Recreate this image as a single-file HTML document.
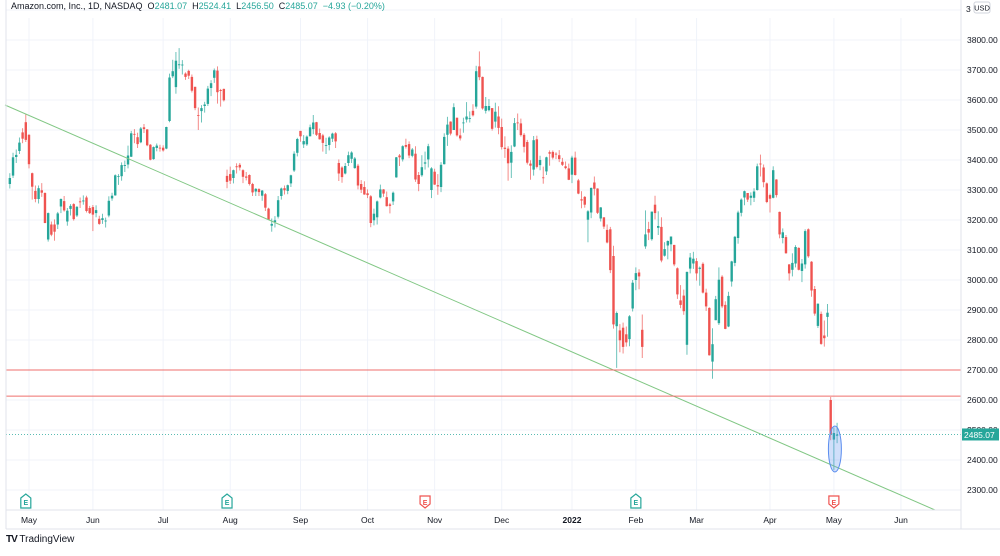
<!DOCTYPE html>
<html><head><meta charset="utf-8"><style>
body{margin:0;background:#fff;width:1000px;height:551px;overflow:hidden;font-family:"Liberation Sans",sans-serif}
svg text{font-family:"Liberation Sans",sans-serif}
</style></head><body>
<svg id="chart" width="1000" height="551" viewBox="0 0 1000 551" xmlns="http://www.w3.org/2000/svg">
<rect x="0" y="0" width="1000" height="551" fill="#fff"/>
<g id="grid"></g>
<g id="candles"></g>
<g id="overlay"></g>
<g id="axes"></g>
</svg>
<script>
const monthLabels=["May","Jun","Jul","Aug","Sep","Oct","Nov","Dec","2022","Feb","Mar","Apr","May","Jun"];
const monthStartIdx=[6,26,48,69,91,112,133,154,176,196,215,238,258,279];
const priceTicks=[3800,3700,3600,3500,3400,3300,3200,3100,3000,2900,2800,2700,2600,2500,2400,2300];
const closes=[3340,3409,3417,3458,3471,3467,
3386,3311,3270,3306,3291,3190,3223,3151,3161,3222,3270,3232,3231,3247,3203,3244,3259,3265,3230,3223,
3218,3233,3187,3206,3198,3264,3281,3349,3346,3383,3383,3415,3489,3486,3453,3505,3503,3449,3401,3443,3448,3440,
3432,3510,3675,3696,3731,3719,3718,3677,3681,3631,3573,3549,3573,3585,3638,3656,3699,3626,3630,3599,3327,
3331,3366,3376,3375,3344,3341,3320,3292,3304,3293,3298,3241,3201,3187,3199,3266,3305,3299,3316,3349,3421,3470,
3479,3463,3478,3509,3525,3484,3469,3457,3450,3475,3488,3462,3355,3343,3380,3416,3425,3405,3315,3301,3285,
3283,3190,3221,3262,3302,3288,3246,3247,3291,3409,3409,3446,3444,3415,3435,3335,3320,3376,3392,3446,3372,
3318,3312,3384,3477,3518,3488,3576,3482,3472,3525,3545,3540,3549,3696,3676,3572,3580,3580,3504,3561,3507,
3443,3437,3389,3427,3523,3523,3483,3444,3391,3381,3466,3377,3400,3341,3409,3421,3408,3420,3403,3384,3373,3334,
3408,3350,3288,3265,3251,3229,3307,3304,3224,3242,3178,3125,3033,2852,2890,2799,2777,2792,2879,2991,
3023,3012,2777,3152,3158,3228,3223,3180,3065,3103,3130,3145,3052,2952,2917,2896,3027,3075,3071,
3022,3041,2958,2912,2749,2786,2936,3001,2912,2837,2947,3062,3144,3225,3268,3296,3268,3281,3295,3379,3386,3326,3260,
3271,3366,3283,3152,3159,3089,3022,3057,3110,3034,3055,3163,3079,2965,2888,2921,2787,2806,2891,2486,
2490,2485];
const opens=[3320,3348,3410,3430,3492,3526,
3484,3356,3297,3270,3299,3290,3135,3185,3185,3185,3245,3263,3195,3237,3253,3215,3262,3262,3275,3240,
3243,3223,3204,3200,3197,3215,3272,3282,3346,3346,3380,3385,3411,3487,3476,3459,3509,3502,3451,3403,3440,3441,
3441,3438,3530,3679,3643,3716,3718,3688,3697,3677,3644,3550,3563,3580,3587,3640,3674,3698,3633,3637,3347,
3353,3340,3379,3384,3366,3345,3350,3320,3295,3303,3281,3286,3238,3181,3193,3211,3280,3306,3297,3322,3365,3424,
3497,3452,3452,3479,3503,3526,3490,3482,3450,3450,3471,3489,3390,3375,3355,3390,3404,3373,3381,3320,3310,
3289,3279,3199,3209,3275,3302,3276,3252,3262,3342,3415,3402,3450,3453,3414,3421,3350,3349,3388,3402,3300,
3361,3316,3310,3386,3484,3528,3500,3541,3482,3525,3535,3540,3564,3578,3712,3677,3564,3566,3573,3528,3545,
3510,3441,3438,3391,3445,3525,3522,3484,3460,3388,3368,3469,3383,3342,3362,3426,3427,3421,3416,3394,3379,3372,
3351,3408,3332,3269,3277,3201,3225,3325,3305,3205,3209,3167,3169,3080,2846,2832,2841,2819,2803,2905,
3000,3025,2834,3112,3170,3136,3251,3174,3177,3081,3115,3119,3117,3039,2932,2948,2784,3038,3055,
3063,3037,3054,2958,2907,2728,2866,2856,3011,2917,2845,2995,3057,3140,3224,3275,3290,3274,3274,3300,3388,3375,3322,
3283,3274,3335,3227,3140,3143,3052,3034,3055,3107,3030,3052,3169,3061,2970,2847,2887,2815,2877,2600,
2468,2481];
const highs=[3356,3424,3435,3475,3506,3554,
3486,3358,3315,3315,3323,3292,3225,3195,3202,3227,3272,3280,3240,3253,3256,3246,3275,3282,3281,3247,
3250,3249,3214,3221,3208,3279,3291,3352,3353,3392,3398,3448,3497,3503,3491,3510,3520,3503,3453,3445,3455,3451,
3449,3511,3688,3734,3760,3773,3733,3692,3701,3685,3644,3575,3583,3594,3647,3666,3705,3712,3637,3638,3368,
3378,3368,3389,3390,3369,3360,3352,3324,3306,3306,3300,3290,3241,3205,3213,3280,3308,3315,3318,3351,3429,3474,
3497,3483,3482,3518,3550,3527,3505,3487,3474,3479,3491,3493,3402,3379,3390,3428,3429,3410,3387,3333,3329,
3302,3283,3238,3265,3318,3303,3295,3257,3295,3410,3420,3449,3471,3462,3440,3446,3360,3416,3428,3454,3376,
3371,3353,3393,3489,3544,3529,3589,3541,3505,3541,3593,3562,3586,3714,3762,3678,3610,3603,3573,3591,3579,
3538,3479,3446,3449,3540,3555,3538,3490,3467,3399,3480,3481,3414,3378,3411,3432,3432,3426,3433,3407,3395,3388,
3414,3428,3337,3296,3280,3233,3308,3345,3306,3243,3209,3185,3177,3114,2895,2853,2858,2845,2883,3000,
3042,3036,2885,3232,3194,3228,3281,3229,3209,3126,3132,3145,3117,3042,2983,2968,3028,3090,3094,
3073,3045,3059,2971,2909,2839,2947,3042,3016,2929,2961,3064,3147,3231,3272,3298,3290,3292,3306,3388,3418,3385,3325,
3288,3379,3336,3228,3172,3150,3053,3089,3116,3109,3070,3169,3172,3063,2980,2922,2895,2865,2920,2610,
2508,2524];
const lows=[3305,3340,3390,3420,3456,3460,
3372,3268,3259,3255,3277,3189,3128,3146,3131,3170,3223,3228,3181,3215,3198,3210,3240,3251,3225,3220,
3163,3209,3184,3187,3175,3209,3264,3281,3317,3331,3360,3372,3410,3456,3440,3456,3490,3446,3399,3401,3429,3428,
3428,3436,3526,3673,3621,3704,3685,3667,3670,3625,3566,3500,3525,3558,3580,3613,3657,3588,3578,3595,3306,
3320,3322,3355,3365,3323,3332,3315,3280,3280,3280,3264,3230,3200,3161,3175,3205,3268,3285,3286,3310,3360,3412,
3461,3440,3447,3479,3486,3480,3468,3428,3420,3432,3460,3440,3330,3324,3352,3380,3390,3371,3302,3290,3284,
3273,3176,3182,3185,3272,3277,3245,3222,3250,3341,3380,3395,3438,3406,3409,3327,3296,3344,3368,3375,3273,
3317,3284,3293,3385,3447,3482,3500,3478,3465,3491,3525,3525,3545,3571,3666,3568,3555,3562,3498,3508,3486,
3435,3407,3331,3340,3443,3500,3478,3425,3385,3334,3348,3372,3366,3321,3350,3381,3402,3403,3393,3380,3369,3333,
3323,3348,3286,3239,3241,3126,3206,3282,3220,3195,3170,3122,3023,2838,2707,2759,2755,2778,2779,2895,
2966,2969,2740,3104,3133,3131,3202,3150,3059,3078,3069,3096,3046,2937,2906,2884,2751,3022,3037,
2998,2981,2955,2897,2748,2671,2866,2850,2906,2836,2843,2978,3046,3121,3212,3249,3260,3249,3260,3298,3345,3309,3256,
3225,3272,3275,3139,3122,3088,2998,3012,3042,3032,2993,3038,3074,2944,2881,2840,2784,2778,2811,2466,
2367,2456];
const hLevels=[2700,2613];
const lastPrice=2485.07;
const earnings=[{i:5,up:true},{i:68,up:true},{i:130,up:false},{i:196,up:true},{i:258,up:false}];

const NS="http://www.w3.org/2000/svg";
const plotL=6,plotR=961,plotT=18,plotB=510;
function y(v){return 40+(3800-v)*0.3;}
function x(i){return 29+(i-6)*3.194;}
function mk(tag,attrs,parent,text){const e=document.createElementNS(NS,tag);for(const k in attrs)e.setAttribute(k,attrs[k]);if(text!==undefined)e.textContent=text;parent.appendChild(e);return e;}
const grid=document.getElementById('grid'),cg=document.getElementById('candles'),ov=document.getElementById('overlay'),ax=document.getElementById('axes');

priceTicks.forEach(v=>{
 const l=mk('line',{x1:plotL,x2:plotR,y1:y(v),y2:y(v),stroke:'#f0f3fa','stroke-width':1},grid);
 
 
 const t=mk('text',{x:967,y:y(v)+3,'font-size':8.5,fill:'#131722'},ax,v.toFixed(2));
 
 
});
mk('line',{x1:plotL,x2:plotR,y1:y(3900),y2:y(3900),stroke:'#f0f3fa'},grid);
monthLabels.forEach((m,k)=>{
 const xx=x(monthStartIdx[k]);
 const l=mk('line',{x1:xx,x2:xx,y1:plotT,y2:plotB,stroke:'#f0f3fa'},grid);
 
 
 const t=mk('text',{x:xx,y:523,'font-size':8.5,fill:'#131722','text-anchor':'middle','font-weight':m==='2022'?'bold':'normal'},ax,m);
 
 
});

closes.forEach((c,i)=>{
 const o=opens[i],h=highs[i],lw=lows[i];
 const col=c>=o?'#26a69a':'#ef5350';
 const g=mk('g',{},cg);
 
 
 const xx=x(i);
 mk('line',{x1:xx,x2:xx,y1:y(h),y2:y(lw),stroke:col,'stroke-width':0.9,opacity:0.75},g);
 const top=y(Math.max(o,c)),bot=y(Math.min(o,c));
 mk('rect',{x:xx-1.2,y:top,width:2.4,height:Math.max(0.8,bot-top),fill:col},g);
});

// trendline
const tl=mk('line',{x1:5,y1:105,x2:935,y2:510,stroke:'#81c784','stroke-width':1},ov);


hLevels.forEach(v=>{
 const l=mk('line',{x1:plotL,x2:plotR,y1:y(v),y2:y(v),stroke:'#ef6f6c','stroke-width':1},ov);
 
 
});
const pl=mk('line',{x1:plotL,x2:plotR,y1:y(lastPrice),y2:y(lastPrice),stroke:'#26a69a','stroke-width':0.8,'stroke-dasharray':'1 2'},ov);


const el=mk('ellipse',{cx:x(258)+1,cy:449,rx:6.5,ry:23,fill:'rgba(100,150,240,0.3)',stroke:'#5b8def','stroke-width':1},ov);



earnings.forEach(e=>{
 const xx=x(e.i),col=e.up?'#26a69a':'#ef5350';
 const g=mk('g',{},ov);
 
 
 mk('path',{d:`M${xx-5},${e.up?498:496} L${xx},${e.up?494:496} L${xx+5},${e.up?498:496} L${xx+5},${e.up?508:504} L${xx},${e.up?508:508} L${xx-5},${e.up?508:504} Z`,fill:'#fff',stroke:col,'stroke-width':1.2},g);
 mk('text',{x:xx,y:505,'font-size':7,fill:col,'text-anchor':'middle','font-weight':'bold'},g,'E');
});

// axes frames
mk('line',{x1:plotR,x2:plotR,y1:0,y2:529,stroke:'#e0e3eb'},ax);
mk('line',{x1:plotL,x2:plotR,y1:plotB,y2:plotB,stroke:'#e0e3eb'},ax);
mk('line',{x1:plotL,x2:1000,y1:529,y2:529,stroke:'#e0e3eb'},ax);
mk('line',{x1:plotL,x2:plotL,y1:0,y2:529,stroke:'#e0e3eb'},ax);
const pt=mk('g',{},ax);


mk('rect',{x:962,y:y(lastPrice)-6,width:37,height:12,fill:'#26a69a'},pt);
mk('text',{x:964,y:y(lastPrice)+3.5,'font-size':8.5,fill:'#fff'},pt,lastPrice.toFixed(2));
const usd=mk('g',{},ax);


mk('rect',{x:974,y:2,width:16,height:11,rx:2,fill:'#fff',stroke:'#d1d4dc'},usd);
mk('text',{x:982,y:10.5,'font-size':7.5,fill:'#131722','text-anchor':'middle'},usd,'USD');
mk('text',{x:966,y:12,'font-size':8.5,fill:'#131722'},ax,'3');
</script>
<div style="position:absolute;left:11px;top:1px;font-size:9px;color:#131722;white-space:nowrap;font-family:'Liberation Sans',sans-serif">Amazon.com, Inc., 1D, NASDAQ&nbsp; <span style="color:#131722">O</span><span style="color:#26a69a">2481.07</span>&nbsp; H<span style="color:#26a69a">2524.41</span>&nbsp; L<span style="color:#26a69a">2456.50</span>&nbsp; C<span style="color:#26a69a">2485.07&nbsp; −4.93 (−0.20%)</span></div>
<div style="position:absolute;left:6px;top:534px;font-size:10px;color:#131722;font-family:'Liberation Sans',sans-serif"><b style="letter-spacing:-1px">TV</b> TradingView</div>
</body></html>
